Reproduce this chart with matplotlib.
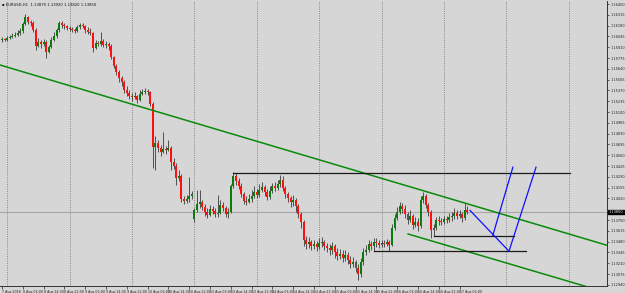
import matplotlib
matplotlib.use("Agg")
import matplotlib.pyplot as plt
import numpy as np

# ---- data: EURUSD H1 candles (bar index 0 = 7 Aug 2018 22:00) ----
opens = [1.1600,1.1601,1.1600,1.1602,1.1604,1.1605,1.1606,1.1609,1.1611,1.1620,
1.1629,1.1622,1.1621,1.1612,1.1592,1.1597,1.1595,1.1597,1.1585,1.1591,
1.1600,1.1605,1.1612,1.1621,1.1619,1.1617,1.1615,1.1614,1.1612,1.1611,
1.1616,1.1619,1.1617,1.1612,1.1610,1.1609,1.1590,1.1596,1.1595,1.1599,
1.1594,1.1595,1.1592,1.1579,1.1567,1.1560,1.1552,1.1547,1.1537,1.1534,
1.1530,1.1529,1.1530,1.1525,1.1532,1.1535,1.1536,1.1535,1.1520,1.1466,
1.1471,1.1465,1.1460,1.1464,1.1462,1.1465,1.1447,1.1442,1.1427,1.1430,
1.1401,1.1399,1.1401,1.1405,1.1376,1.1387,1.1395,1.1397,1.1391,1.1385,
1.1381,1.1389,1.1386,1.1382,1.1384,1.1394,1.1390,1.1382,1.1385,1.1417,
1.1430,1.1424,1.1417,1.1407,1.1399,1.1397,1.1401,1.1405,1.1410,1.1406,
1.1412,1.1416,1.1410,1.1404,1.1411,1.1417,1.1415,1.1420,1.1425,1.1415,
1.1407,1.1402,1.1397,1.1400,1.1392,1.1382,1.1372,1.1350,1.1345,1.1347,
1.1342,1.1345,1.1341,1.1346,1.1347,1.1342,1.1340,1.1337,1.1342,1.1335,
1.1330,1.1332,1.1327,1.1331,1.1325,1.1320,1.1322,1.1315,1.1307,1.1322,
1.1335,1.1337,1.1345,1.1342,1.1347,1.1346,1.1344,1.1346,1.1345,1.1347,
1.1344,1.1365,1.1377,1.1385,1.1392,1.1389,1.1382,1.1375,1.1380,1.1369,
1.1372,1.1367,1.1400,1.1405,1.1394,1.1385,1.1362,1.1365,1.1375,1.1374,
1.1372,1.1376,1.1375,1.1379,1.1380,1.1384,1.1380,1.1382,1.1377,1.1387]

closes = [1.1601,1.1600,1.1602,1.1604,1.1605,1.1606,1.1609,1.1611,1.1620,1.1629,
1.1622,1.1621,1.1612,1.1592,1.1597,1.1595,1.1597,1.1585,1.1591,1.1600,
1.1605,1.1612,1.1621,1.1619,1.1617,1.1615,1.1614,1.1612,1.1611,1.1616,
1.1619,1.1617,1.1612,1.1610,1.1609,1.1590,1.1596,1.1595,1.1599,1.1594,
1.1595,1.1592,1.1579,1.1567,1.1560,1.1552,1.1547,1.1537,1.1534,1.1530,
1.1529,1.1530,1.1525,1.1532,1.1535,1.1536,1.1535,1.1520,1.1466,1.1471,
1.1465,1.1460,1.1464,1.1462,1.1465,1.1447,1.1442,1.1427,1.1430,1.1401,
1.1399,1.1401,1.1405,1.1407,1.1387,1.1395,1.1397,1.1391,1.1385,1.1381,
1.1389,1.1386,1.1382,1.1384,1.1394,1.1390,1.1382,1.1385,1.1417,1.1430,
1.1424,1.1417,1.1407,1.1399,1.1397,1.1401,1.1405,1.1410,1.1406,1.1412,
1.1416,1.1410,1.1404,1.1411,1.1417,1.1415,1.1420,1.1425,1.1415,1.1407,
1.1402,1.1397,1.1400,1.1392,1.1382,1.1372,1.1350,1.1345,1.1347,1.1342,
1.1345,1.1341,1.1346,1.1347,1.1342,1.1340,1.1337,1.1342,1.1335,1.1330,
1.1332,1.1327,1.1331,1.1325,1.1320,1.1322,1.1315,1.1307,1.1322,1.1335,
1.1337,1.1345,1.1342,1.1347,1.1346,1.1344,1.1346,1.1345,1.1347,1.1344,
1.1365,1.1377,1.1385,1.1392,1.1389,1.1382,1.1375,1.1380,1.1369,1.1372,
1.1367,1.1400,1.1405,1.1394,1.1385,1.1362,1.1365,1.1375,1.1374,1.1372,
1.1376,1.1375,1.1379,1.1380,1.1384,1.1380,1.1382,1.1377,1.1387,1.1385]

highs = [1.1604,1.1602,1.1605,1.1606,1.1609,1.1610,1.1612,1.1615,1.1622,1.1632,
1.1630,1.1625,1.1624,1.1615,1.1602,1.1600,1.1601,1.1600,1.1594,1.1604,
1.1610,1.1615,1.1624,1.1624,1.1621,1.1619,1.1617,1.1616,1.1615,1.1619,
1.1621,1.1621,1.1619,1.1616,1.1615,1.1610,1.1600,1.1599,1.1610,1.1601,
1.1599,1.1597,1.1595,1.1580,1.1570,1.1562,1.1555,1.1550,1.1542,1.1537,
1.1534,1.1535,1.1531,1.1537,1.1539,1.1540,1.1539,1.1536,1.1522,1.1480,
1.1475,1.1469,1.1485,1.1467,1.1475,1.1467,1.1452,1.1446,1.1437,1.1432,
1.1405,1.1406,1.1429,1.1411,1.1390,1.1412,1.1412,1.1400,1.1395,1.1390,
1.1394,1.1392,1.1390,1.1406,1.1400,1.1397,1.1392,1.1390,1.1420,1.1435,
1.1434,1.1427,1.1421,1.1410,1.1405,1.1407,1.1412,1.1417,1.1414,1.1420,
1.1422,1.1419,1.1414,1.1417,1.1421,1.1422,1.1425,1.1431,1.1430,1.1417,
1.1410,1.1405,1.1406,1.1402,1.1395,1.1385,1.1375,1.1355,1.1354,1.1350,
1.1350,1.1349,1.1352,1.1354,1.1350,1.1346,1.1345,1.1347,1.1345,1.1340,
1.1339,1.1337,1.1337,1.1335,1.1330,1.1329,1.1325,1.1320,1.1327,1.1340,
1.1344,1.1350,1.1349,1.1352,1.1352,1.1350,1.1350,1.1350,1.1351,1.1350,
1.1370,1.1382,1.1391,1.1397,1.1396,1.1394,1.1385,1.1387,1.1382,1.1379,
1.1377,1.1405,1.1410,1.1407,1.1396,1.1387,1.1370,1.1379,1.1380,1.1377,
1.1380,1.1380,1.1384,1.1385,1.1390,1.1387,1.1387,1.1385,1.1396,1.1392]

lows = [1.1597,1.1599,1.1599,1.1601,1.1602,1.1604,1.1605,1.1606,1.1609,1.1619,
1.1620,1.1617,1.1610,1.1587,1.1591,1.1590,1.1592,1.1577,1.1584,1.1590,
1.1599,1.1602,1.1610,1.1615,1.1614,1.1612,1.1611,1.1610,1.1609,1.1610,
1.1614,1.1615,1.1609,1.1607,1.1606,1.1585,1.1589,1.1592,1.1592,1.1591,
1.1590,1.1587,1.1576,1.1565,1.1556,1.1547,1.1542,1.1534,1.1530,1.1526,
1.1524,1.1526,1.1521,1.1524,1.1531,1.1532,1.1531,1.1517,1.1440,1.1437,
1.1460,1.1455,1.1459,1.1457,1.1461,1.1437,1.1439,1.1419,1.1424,1.1397,
1.1395,1.1396,1.1397,1.1401,1.1372,1.1385,1.1390,1.1387,1.1380,1.1377,
1.1380,1.1382,1.1379,1.1379,1.1382,1.1386,1.1379,1.1377,1.1384,1.1415,
1.1419,1.1414,1.1404,1.1395,1.1394,1.1396,1.1397,1.1402,1.1402,1.1404,
1.1410,1.1405,1.1400,1.1401,1.1409,1.1411,1.1412,1.1416,1.1411,1.1402,
1.1397,1.1391,1.1392,1.1385,1.1377,1.1365,1.1342,1.1339,1.1340,1.1337,
1.1339,1.1336,1.1339,1.1341,1.1337,1.1335,1.1331,1.1332,1.1327,1.1325,
1.1326,1.1322,1.1324,1.1320,1.1315,1.1316,1.1310,1.1300,1.1304,1.1319,
1.1331,1.1335,1.1337,1.1336,1.1341,1.1340,1.1341,1.1341,1.1342,1.1336,
1.1342,1.1362,1.1375,1.1382,1.1384,1.1377,1.1370,1.1372,1.1364,1.1366,
1.1361,1.1365,1.1396,1.1390,1.1380,1.1352,1.1355,1.1362,1.1369,1.1369,
1.1370,1.1371,1.1372,1.1374,1.1376,1.1376,1.1377,1.1372,1.1375,1.1382]

# time-axis labels (every 8 bars)
x_label_bars = [0, 8, 16, 24, 32, 40, 48, 56, 64, 72, 80, 88, 96, 104, 112, 120,
                128, 136, 144, 152, 160, 168, 176]
x_labels = ["7 Aug 2018", "8 Aug 06:00", "8 Aug 14:00", "8 Aug 22:00", "9 Aug 06:00",
            "9 Aug 14:00", "9 Aug 22:00", "10 Aug 06:00", "10 Aug 14:00", "10 Aug 22:00",
            "13 Aug 06:00", "13 Aug 14:00", "13 Aug 22:00", "14 Aug 06:00", "14 Aug 14:00",
            "14 Aug 22:00", "15 Aug 06:00", "15 Aug 14:00", "15 Aug 22:00", "16 Aug 06:00",
            "16 Aug 14:00", "16 Aug 22:00", "17 Aug 06:00"]
day_sep_bars = [2, 26, 50, 74, 98, 122, 146, 170, 194, 218]

# price scale labels (the one at the current price is covered by the price tag)
price_ticks = [1.16450, 1.16315, 1.16180, 1.16045, 1.15910, 1.15775, 1.15640, 1.15505,
               1.15370, 1.15235, 1.15100, 1.14965, 1.14830, 1.14695, 1.14560, 1.14425,
               1.14290, 1.14155, 1.14020, 1.13750, 1.13615, 1.13480, 1.13345,
               1.13210, 1.13075, 1.12940]
bid_price = 1.13850

# drawn objects (bar index, price)
upper_channel = [(0, 1.1568), (230, 1.1346)]
lower_channel = [(156.2, 1.13575), (236, 1.1281)]
hline_top = (89, 218.5, 1.1434)
hline_mid = (166, 197, 1.1355)
hline_low = (143, 201.5, 1.1336)
blue_path1 = ([180, 195, 205.4], [1.1387, 1.1336, 1.1441])
blue_path2 = ([188.8, 196.5], [1.1356, 1.1441])

BG = "#d6d6d6"
fig = plt.figure(figsize=(6.25, 2.93), dpi=100, facecolor=BG)
ax = fig.add_axes([0.0, 7 / 293, 607 / 625, 285 / 293], facecolor=BG)
ax.set_xlim(-0.77, 232.7)
ax.set_ylim(1.12925, 1.164875)

idx = np.arange(len(opens))
o = np.array(opens); c = np.array(closes); h = np.array(highs); l = np.array(lows)

# grid
for b in day_sep_bars:
    ax.axvline(b, color="#7a7a7a", lw=0.6, ls=(0, (1.2, 1.5)), zorder=1)
ax.axhline(bid_price, color="#a8a8a8", lw=0.8, zorder=1)

# candles
ax.vlines(idx, l, h, color="#3a3a3a", lw=0.6, zorder=3)
up = c >= o
colors = np.where(up, "#0c7a0c", "#ff1010")
height = np.where(np.abs(c - o) < 0.00005, 0.00005, c - o)
ax.bar(idx, height, bottom=o, width=0.7, color=colors, linewidth=0, zorder=4)

# trend channel
ax.axline(upper_channel[0], upper_channel[1], color="#0a8a0a", lw=1.1, zorder=5)
ax.plot([p[0] for p in lower_channel], [p[1] for p in lower_channel],
        color="#0a8a0a", lw=1.1, zorder=5)

# horizontal levels
for x0, x1, yv in (hline_top, hline_mid, hline_low):
    ax.plot([x0, x1], [yv, yv], color="#1a1a1a", lw=0.9, zorder=5)

# projections
ax.plot(blue_path1[0], blue_path1[1], color="#1010ff", lw=0.9, zorder=6)
ax.plot(blue_path2[0], blue_path2[1], color="#1010ff", lw=0.9, zorder=6)

# axes styling
for s in ("left", "top"):
    ax.spines[s].set_visible(False)
for s in ("right", "bottom"):
    ax.spines[s].set_color("#333333")
    ax.spines[s].set_linewidth(0.7)
ax.yaxis.tick_right()
ax.set_yticks(price_ticks)
ax.set_yticklabels([f"{v:.5f}" for v in price_ticks])
ax.tick_params(axis="y", labelsize=2.5, length=1.5, width=0.5, pad=0.8,
               colors="#222222", direction="out")
ax.set_xticks(x_label_bars)
ax.set_xticklabels(x_labels)
ax.tick_params(axis="x", labelsize=2.3, length=2, width=0.5, pad=0.8,
               colors="#222222", direction="out")
for t in ax.get_xticklabels():
    t.set_horizontalalignment("left")

# current price tag
ax.text(1.003, bid_price, f"{bid_price:.5f}", transform=ax.get_yaxis_transform(),
        fontsize=2.5, color="white", va="center", ha="left", zorder=20, clip_on=False,
        bbox=dict(boxstyle="square,pad=0.12", fc="black", ec="black"))

# title
fig.text(2 / 625, 1 - 5 / 293, "\u25aa EURUSD,H1  1.13870 1.13920 1.13820 1.13850",
         fontsize=2.7, color="#111111", va="center", ha="left")

fig.savefig("out.png", dpi=100, facecolor=BG)
